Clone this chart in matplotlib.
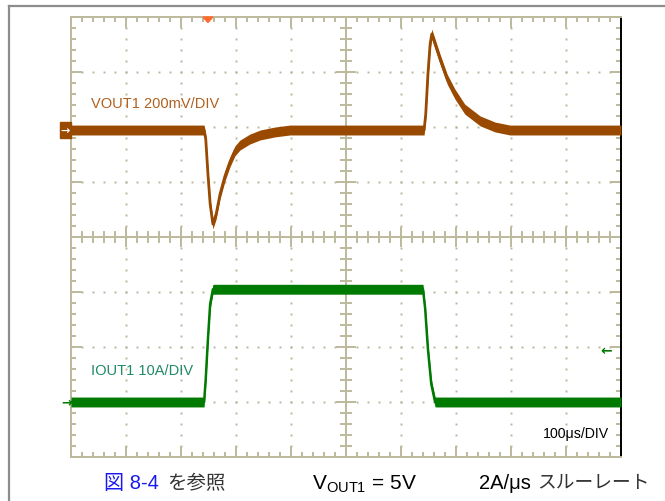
import numpy as np
import matplotlib
matplotlib.use('Agg')
import matplotlib.pyplot as plt
from matplotlib.patches import Rectangle, Polygon

plt.rcParams['font.family'] = ['Liberation Sans', 'Noto Sans CJK JP']
plt.rcParams['mathtext.fontset'] = 'custom'
plt.rcParams['mathtext.rm'] = 'Liberation Sans'

# ---------- DATA (read off the scope shot) ----------
# time in us (100us/DIV, 10 DIV on screen)
vout_t = [0, 242, 245, 249, 253, 258, 264, 271, 280, 289, 298, 307, 325, 344, 371, 398,
          642, 645, 649, 653, 656, 662, 671, 684, 698, 716, 744, 771, 798, 1000]
# VOUT1 deviation in mV (200mV/DIV)
vout_mv = [0, 0, -33, -160, -269, -342, -305, -233, -167, -116, -76, -55, -33, -18, -7, 0,
           0, 58, 204, 313, 349, 313, 258, 185, 131, 76, 33, 11, 0, 0]

iout_t = [0, 242, 245, 249, 253, 258, 640, 644, 649, 655, 662, 1000]
# IOUT1 in A (10A/DIV)
iout_a = [0, 0, 4.2, 11.5, 17.8, 20.5, 20.5, 16.9, 9.6, 3.3, 0, 0]

vout_scale = 200.0   # mV/DIV
iout_scale = 10.0    # A/DIV
vout_pos = 1.945     # channel offset, DIV
iout_pos = -3.0

W, H = 665, 502
tan = '#bdb99c'
brown = '#9a4a00'
green = '#007a00'

fig = plt.figure(figsize=(W / 100, H / 100), dpi=100)
fig.patch.set_facecolor('white')

# outer gray frame (top + left)
fig.add_artist(plt.Line2D([9 / W, 1], [1 - 6.5 / H] * 2, color='#8c8c8c', lw=1.6))
fig.add_artist(plt.Line2D([9 / W] * 2, [0, 1 - 6.5 / H], color='#8c8c8c', lw=1.6))

ax = fig.add_axes([71 / W, 44 / H, 550 / W, 440 / H])
ax.set_xlim(0, 1000)
ax.set_ylim(-4, 4)

for s in ax.spines.values():
    s.set_color(tan)
    s.set_linewidth(1.4)
ax.spines['right'].set_color('black')

ax.set_xticks(np.arange(0, 1001, 100))
ax.set_xticks(np.arange(0, 1001, 20), minor=True)
ax.set_yticks(np.arange(-4, 4.01, 1))
ax.set_yticks(np.arange(-4, 4.01, 0.2), minor=True)
ax.tick_params(which='both', direction='in', top=True, right=True, color=tan,
               labelbottom=False, labelleft=False, width=1.4)
ax.tick_params(which='major', length=8)
ax.tick_params(which='minor', length=3.5)

# dotted graticule
dot_kw = dict(ls='none', marker='s', ms=1.4, mew=0, color='#bab59a', zorder=1)
ys = np.arange(-4, 4.01, 0.2)
xs = np.arange(0, 1001, 20)
for gx in [100, 200, 300, 400, 600, 700, 800, 900]:
    ax.plot([gx] * len(ys), ys, **dot_kw)
for gy in [-3, -2, -1, 1, 2, 3]:
    ax.plot(xs, [gy] * len(xs), **dot_kw)

# centre cross with ticks
ax.axhline(0, color=tan, lw=1.4, zorder=1)
ax.axvline(500, color=tan, lw=1.4, zorder=1)
for x in xs:
    h = 0.16 if x % 100 == 0 else 0.09
    ax.plot([x, x], [-h, h], color=tan, lw=1.4, zorder=1)
for y in ys:
    w = 16 if abs(y - round(y)) < 1e-6 else 9
    ax.plot([500 - w, 500 + w], [y, y], color=tan, lw=1.4, zorder=1)

# traces
band = 0.09
vy = np.array(vout_mv) / vout_scale + vout_pos
ax.fill_between(vout_t, vy - band, vy + band, color=brown, lw=0, zorder=3)
ax.plot(vout_t, vy, color=brown, lw=2.0, zorder=3)

iy = np.array(iout_a) / iout_scale + iout_pos
ax.fill_between(iout_t, iy - band, iy + band, color=green, lw=0, zorder=3)
ax.plot(iout_t, iy, color=green, lw=1.8, zorder=3)

# channel markers
ax.add_patch(Rectangle((-20, vout_pos - 0.14), 20, 0.28, color=brown,
                       clip_on=False, zorder=4))
ax.text(-10, vout_pos, '→', color='white', fontsize=8, ha='center', va='center',
        family='DejaVu Sans', fontweight='bold', clip_on=False, zorder=5)
ax.text(-9, iout_pos, '→', color=green, fontsize=9, ha='center', va='center',
        family='DejaVu Sans', fontweight='bold', clip_on=False)
ax.text(972, -2.05, '←', color=green, fontsize=10, ha='center', va='center',
        family='DejaVu Sans', fontweight='bold')
ax.add_patch(Polygon([[240, 4.0], [258, 4.0], [249, 3.9]], closed=True,
                     color='#ff6a2a', clip_on=False, zorder=5))

# labels inside the screen
ax.text(36, 2.43, 'VOUT1 200mV/DIV', color='#b0601f', fontsize=10.5, va='center')
ax.text(36, -2.41, 'IOUT1 10A/DIV', color='#1f8a66', fontsize=10.5, va='center')
ax.text(979, -3.56, '100μs/DIV', color='black', fontsize=10.2, ha='right', va='center')

# caption row
fy = 1 - 484 / H
fig.text(104 / W, fy, '図 8-4', color='#1a1aee', fontsize=14.5, va='center')
fig.text(167 / W, fy, 'を参照', color='#333333', fontsize=14, va='center')
fig.text(312 / W, fy, r'V$_\mathregular{OUT1}$ = 5V', color='black', fontsize=15,
         va='center')
fig.text(479 / W, fy, '2A/μs', color='black', fontsize=14.5, va='center')
fig.text(537 / W, fy, 'スルーレート', color='#333333', fontsize=13.5, va='center')

fig.savefig('out.png', dpi=100)
